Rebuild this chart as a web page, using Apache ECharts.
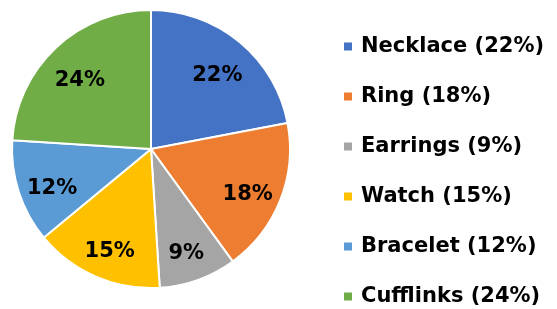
<!DOCTYPE html>
<html>
<head>
<meta charset="utf-8">
<script src="https://cdn.jsdelivr.net/npm/echarts@6/dist/echarts.min.js"></script>
<style>
html, body { margin: 0; padding: 0; background: #fff; }
#main { width: 557px; height: 309px; }
</style>
</head>
<body>
<div id="main"></div>
<script>
var categories = ['Necklace', 'Ring', 'Earrings', 'Watch', 'Bracelet', 'Cufflinks'];
var values = [22, 18, 9, 15, 12, 24];
var colors = ['#4472C4', '#ED7D31', '#A5A5A5', '#FFC000', '#5B9BD5', '#70AD47'];

var myChart = echarts.init(document.getElementById('main'));
var pieData = categories.map(function (name, i) {
    return { name: name, value: values[i] };
});

var option = {
    color: colors,
    animation: false,
    legend: {
        orient: 'vertical',
        left: 342,
        top: 36,
        padding: 0,
        icon: 'rect',
        itemWidth: 10,
        itemHeight: 10,
        itemGap: 29,
        data: categories,
        textStyle: {
            fontFamily: 'DejaVu Sans',
            fontWeight: 'bold',
            fontSize: 21,
            color: '#000',
            padding: [0, 0, 0, 3]
        },
        formatter: function (name) {
            return name + ' (' + values[categories.indexOf(name)] + '%)';
        }
    },
    series: [
        {
            type: 'pie',
            center: [151, 149],
            radius: 139,
            startAngle: 90,
            clockwise: true,
            itemStyle: {
                borderColor: '#fff',
                borderWidth: 2
            },
            label: { show: false },
            labelLine: { show: false },
            data: pieData
        },
        {
            // transparent ring, slightly lower, only used to place the labels
            type: 'pie',
            center: [151, 156],
            radius: [66, 136],
            startAngle: 90,
            clockwise: true,
            silent: true,
            itemStyle: { color: 'rgba(0,0,0,0)', borderWidth: 0 },
            label: {
                position: 'inside',
                formatter: '{c}%',
                fontFamily: 'DejaVu Sans',
                fontWeight: 'bold',
                fontSize: 21,
                color: '#000'
            },
            labelLine: { show: false },
            data: pieData
        }
    ]
};
myChart.setOption(option, true);
</script>
</body>
</html>
